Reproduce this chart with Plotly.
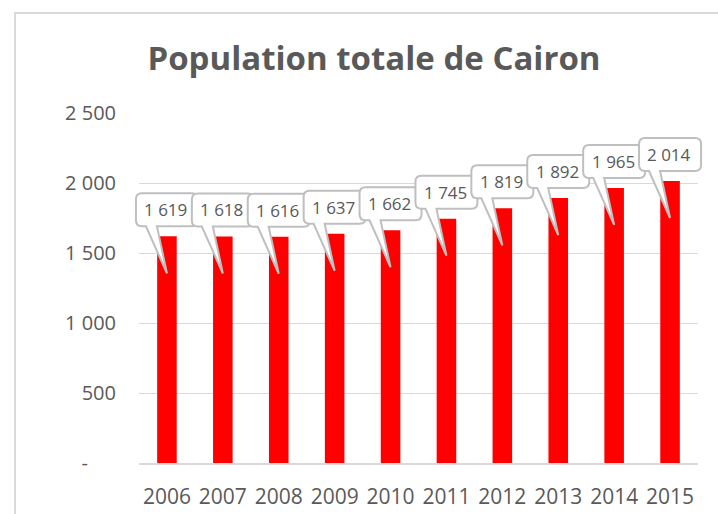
import plotly.graph_objects as go

years = [2006, 2007, 2008, 2009, 2010, 2011, 2012, 2013, 2014, 2015]
population = [1619, 1618, 1616, 1637, 1662, 1745, 1819, 1892, 1965, 2014]
y_tick_vals = [0, 500, 1000, 1500, 2000, 2500]
y_tick_text = ["-\u2007\u2007\u00a0", "500", "1 000", "1 500", "2 000", "2 500"]
title_text = "Population totale de Cairon"

W, H = 718, 514
L, R, T, B = 139, 20, 113, 51
X_RANGE = [2005.5, 2015.5]
Y_RANGE = [0, 2500]
FONT = "Open Sans"
GRAY = "#595959"

def fmt(v):
    return f"{v:,}".replace(",", " ")

fig = go.Figure()
fig.add_trace(go.Bar(
    x=years, y=population, width=0.35,
    marker=dict(color="#FF0000", line=dict(width=0)),
    hoverinfo="skip",
))

def q(x, y):
    return f"{x},{y}"

bl, br, bb, bt, rad = -31, 31, 10, 43, 6
p1, p2, tip = -21, -10, -37
callout_path = (
    f"M{q(bl + rad, bb)} L{q(p1, bb)} L{q(0, tip)} L{q(p2, bb)} L{q(br - rad, bb)} "
    f"Q{q(br, bb)} {q(br, bb + rad)} L{q(br, bt - rad)} Q{q(br, bt)} {q(br - rad, bt)} "
    f"L{q(bl + rad, bt)} Q{q(bl, bt)} {q(bl, bt - rad)} L{q(bl, bb + rad)} Q{q(bl, bb)} {q(bl + rad, bb)} Z"
)

def to_paper_x(v):
    return (v - X_RANGE[0]) / (X_RANGE[1] - X_RANGE[0])

def to_paper_y(v):
    return (v - Y_RANGE[0]) / (Y_RANGE[1] - Y_RANGE[0])

for yr, v in zip(years, population):
    fig.add_shape(
        type="path", xref="paper", yref="paper",
        xsizemode="pixel", ysizemode="pixel",
        xanchor=to_paper_x(yr), yanchor=to_paper_y(v), path=callout_path,
        fillcolor="white", line=dict(color="#BFBFBF", width=2), layer="above",
    )
    fig.add_annotation(
        x=yr, y=v, xref="x", yref="y", text=fmt(v), showarrow=False,
        yshift=(bb + bt) / 2, xshift=-1,
        font=dict(family=FONT, size=17, color=GRAY),
    )

pw, ph = W - L - R, H - T - B
fig.add_shape(
    type="rect", xref="paper", yref="paper",
    x0=(15 - L) / pw, x1=(W + 20 - L) / pw,
    y0=(H - B - (H + 20)) / ph, y1=(H - B - 13) / ph,
    line=dict(color="#D9D9D9", width=2), fillcolor="rgba(0,0,0,0)", layer="below",
)

fig.update_layout(
    width=W, height=H,
    margin=dict(l=L, r=R, t=T, b=B, pad=0),
    paper_bgcolor="white", plot_bgcolor="white",
    showlegend=False,
    title=dict(
        text=f"<b>{title_text}</b>", x=374 / W, xanchor="center",
        y=1 - 58 / H, yanchor="middle", xref="container", yref="container",
        font=dict(family=FONT, size=33, color=GRAY),
    ),
    xaxis=dict(
        range=X_RANGE, tickvals=years, ticktext=[str(y) for y in years],
        showgrid=False, showline=True, linecolor="#D9D9D9", linewidth=1.5,
        ticks="outside", ticklen=0, ticklabelstandoff=14, automargin=False,
        tickfont=dict(family=FONT, size=21, color=GRAY), zeroline=False,
    ),
    yaxis=dict(
        range=Y_RANGE, tickvals=y_tick_vals, ticktext=y_tick_text,
        showgrid=True, gridcolor="#D9D9D9", gridwidth=1, zeroline=False,
        showline=False, ticks="", ticklabelstandoff=22, automargin=False,
        tickfont=dict(family=FONT, size=20, color=GRAY),
    ),
)

fig.write_html("out.html", config={"displayModeBar": False},
               post_script="document.body.style.margin='0';")
